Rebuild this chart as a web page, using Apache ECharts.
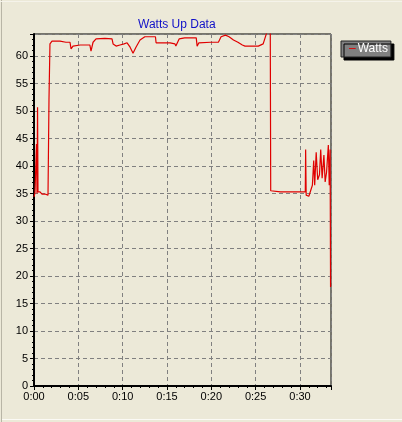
<!DOCTYPE html>
<html><head><meta charset="utf-8">
<script src="https://cdn.jsdelivr.net/npm/echarts@6/dist/echarts.min.js"></script>
<style>html,body{margin:0;padding:0;background:#ECE9D8;}#c{width:402px;height:422px;}</style>
</head><body><div id="c"></div>
<script>
const title = 'Watts Up Data';
const seriesName = 'Watts';
const minutes = [0,0.11,0.23,0.28,0.34,0.40,0.45,0.68,0.9,1.24,1.58,1.69,1.8,2.03,2.93,3.6,4.06,4.18,4.4,5.2,6.3,6.43,6.66,7.0,8.0,8.8,8.92,9.26,9.7,10.16,10.5,10.84,11.17,11.5,11.96,12.5,13.7,13.77,14.2,15.35,15.9,16.0,16.37,17.0,18.3,18.4,18.6,19.9,20.8,21.1,21.6,22.0,22.5,23.0,23.5,23.8,24.6,25.3,25.5,25.85,26.3,26.4,26.65,26.7,27.8,30.0,30.6,30.64,30.7,31.0,31.4,31.55,31.66,31.83,32.0,32.2,32.34,32.5,32.7,32.84,33.0,33.2,33.3,33.4,33.45];
const watts = [34.4,35.1,35,44,35,50.7,35.3,35.3,34.9,34.9,34.7,52,62.2,62.7,62.7,62.5,62.5,61.3,61.8,62,62,60.9,62.5,63.1,63.2,63.1,62.2,61.8,62,62.2,62.4,61.6,60.5,61.6,62.9,63.5,63.5,62.4,62.4,62.4,62.2,61.8,63.1,63.3,63.3,61.8,62.4,62.5,62.5,63.5,63.8,63.5,62.9,62.5,62,61.8,61.8,61.8,61.5,62.2,64.5,65,65,35.5,35.3,35.3,35.3,43,34.7,34.5,36.5,41,36.5,42.5,37.5,38.4,43,37.8,42,37.1,38.9,43.8,36.5,43,18];
const xTicks = [0,5,10,15,20,25,30];
const xTickLabels = ['0:00','0:05','0:10','0:15','0:20','0:25','0:30'];

const data = minutes.map((m,i)=>[m, watts[i]]);
const font = 'Liberation Sans, Arial, sans-serif';
const chart = echarts.init(document.getElementById('c'), null, {renderer:'canvas'});
chart.setOption({
  backgroundColor: '#ECE9D8',
  animation: false,
  title: {text: title, left: 133, top: 14,
    textStyle: {color: '#1010c8', fontSize: 12, fontWeight: 'normal', fontFamily: font}},
  legend: {data: [seriesName], icon: 'none',
    left: 341, top: 41, orient: 'vertical',
    backgroundColor: '#808080', borderColor: '#222', borderWidth: 1, borderRadius: 0,
    padding: [2, 3, 2, 3], itemGap: 0, itemWidth: 0, itemHeight: 0,
    shadowColor: '#000', shadowOffsetX: 3, shadowOffsetY: 3, shadowBlur: 0,
    formatter: name => '{d|–}' + name,
    textStyle: {color: '#fff', fontSize: 12, fontFamily: font, padding: 0,
      rich: {d: {color: '#e00000', fontSize: 12, fontFamily: font, padding: [0,2,0,0]}}}},
  grid: {left: 34, right: 71, top: 34, bottom: 36, show: true, borderColor: '#000', borderWidth: 1, backgroundColor: 'transparent'},
  xAxis: {type: 'value', min: 0, max: 33.5, interval: 5,
    axisLine: {show: true, onZero: false, lineStyle: {color: '#000', width: 2}},
    axisTick: {show: true, length: 4, lineStyle: {color: '#000'}},
    minorTick: {show: true, splitNumber: 5, length: 2, lineStyle: {color: '#000'}},
    splitLine: {show: true, lineStyle: {color: '#808080', type: [4,3], width: 1}},
    axisLabel: {color: '#000', fontSize: 11, fontFamily: font, margin: 5, showMaxLabel: false,
      formatter: v => { const i = xTicks.indexOf(v); return i >= 0 ? xTickLabels[i] : ''; }}},
  yAxis: {type: 'value', min: 0, max: 64, interval: 5,
    axisLine: {show: true, onZero: false, lineStyle: {color: '#000', width: 2}},
    axisTick: {show: true, length: 4, lineStyle: {color: '#000'}},
    minorTick: {show: true, splitNumber: 5, length: 2, lineStyle: {color: '#000'}},
    splitLine: {show: true, lineStyle: {color: '#808080', type: [4,3], width: 1}},
    axisLabel: {color: '#000', fontSize: 11, fontFamily: font, margin: 6, showMaxLabel: false,
      formatter: v => (v % 5 === 0 && v <= 60) ? String(v) : ''}},
  series: [{name: seriesName, type: 'line', data: data, showSymbol: false, symbol: 'none',
    clip: true, lineStyle: {color: '#e00000', width: 1.2}, itemStyle: {color: '#e00000'}}],
  graphic: [
    {type: 'line', shape: {x1: 1.5, y1: 0, x2: 1.5, y2: 422}, style: {stroke: '#b8b5a6', lineWidth: 1}},
    {type: 'line', shape: {x1: 0, y1: 1.5, x2: 402, y2: 1.5}, style: {stroke: '#f5f3ea', lineWidth: 1}},
    {type: 'line', shape: {x1: 2, y1: 419.5, x2: 402, y2: 419.5}, style: {stroke: '#fbfaf5', lineWidth: 1}}
  ]
});
</script></body></html>
